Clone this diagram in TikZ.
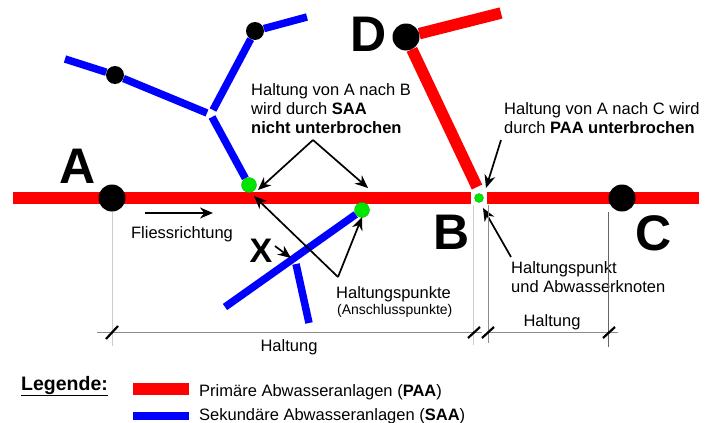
\documentclass[tikz,border=0pt]{standalone}
\usepackage{fontspec}
\setmainfont{Liberation Sans}
\usetikzlibrary{arrows.meta}
\usetikzlibrary{backgrounds}
\tikzset{
  paa/.style={draw=red, line width=11.5pt},
  saa/.style={draw=blue, line width=7.5pt},
  haltung/.style={circle, fill=black, inner sep=0pt, minimum size=#1},
  punkt/.style={circle, fill=green!90!black, draw=green!70!black, line width=0.3pt, inner sep=0pt, minimum size=#1},
  marke/.style={font=\fontsize{50}{50}\selectfont\bfseries, inner sep=0pt},
  txt/.style={font=\fontsize{16.5}{19}\selectfont, align=left, inner sep=0pt},
  pfeil/.style={draw=black, line width=1.7pt, -{Stealth[length=13pt,width=11pt]}},
  mass/.style={draw=black!45, line width=0.8pt},
  strich/.style={draw=black, line width=2.2pt}
}
\begin{document}
\begin{tikzpicture}[x=1pt, y=-1pt]
  \useasboundingbox (0,0) rectangle (710,423);
  % Punkte
  \coordinate (r0) at (13,198);
  \coordinate (b1) at (471,198);
  \coordinate (b2) at (487,198);
  \coordinate (r9) at (699,198);
  \coordinate (d1) at (501,13);
  \coordinate (d2) at (477,187);
  \coordinate (s0) at (65,59);
  \coordinate (s1) at (207,113);
  \coordinate (s2) at (213,110);
  \coordinate (s3) at (307,17);
  \coordinate (s4) at (212,117);
  \coordinate (u0) at (225,307);
  \coordinate (v0) at (296,264);
  \coordinate (v1) at (309,323);
  \node[haltung=27pt] (A) at (112,198) {};
  \node[haltung=27pt] (C) at (622,198) {};
  \node[haltung=27pt] (D) at (406,37) {};
  \node[haltung=18pt] (S1) at (115,75) {};
  \node[haltung=18pt] (S2) at (255,31) {};
  \node[punkt=15pt] (P1) at (249,185) {};
  \node[punkt=15pt] (P2) at (362,210) {};
  \node[punkt=9pt] (P3) at (479,198) {};
  % Leitungen
  \begin{scope}[on background layer]
    \draw[paa] (r0) -- (b1);
    \draw[paa] (b2) -- (r9);
    \draw[paa] (D) -- (d1);
    \draw[paa] (D) -- (d2);
    \draw[saa] (s0) -- (S1) -- (s1);
    \draw[saa] (s2) -- (S2) -- (s3);
    \draw[saa] (s4) -- (P1);
    \draw[saa] (u0) -- (P2);
    \draw[saa] (v0) -- (v1);
  \end{scope}
  % Buchstaben
  \node[marke] (LA) at (78,166) {A};
  \node[marke] (LB) at (452,232) {B};
  \node[marke] (LC) at (654,233) {C};
  \node[marke] (LD) at (369,34) {D};
  \node[font=\fontsize{34}{34}\selectfont\bfseries, inner sep=0pt] (LX) at (261,251) {X};
  % Texte
  \node[txt, anchor=north west] (T1) at (251,83) {Haltung von A nach B\\wird durch \textbf{SAA}\\\textbf{nicht unterbrochen}};
  \node[txt, anchor=north west] (T2) at (504,102) {Haltung von A nach C wird\\durch \textbf{PAA unterbrochen}};
  \node[txt, anchor=north west] (T3) at (511,261) {Haltungspunkt\\und Abwasserknoten};
  \node[txt, anchor=north west] (T4) at (336,286) {Haltungspunkte};
  \node[txt, anchor=north west, font=\fontsize{14}{14}\selectfont] (T5) at (337,304) {(Anschlusspunkte)};
  \node[txt] (F) at (182,234) {Fliessrichtung};
  \node[txt] (H1) at (289,347) {Haltung};
  \node[txt] (H2) at (552,322) {Haltung};
  % Pfeile
  \coordinate (q1) at (313,140);
  \draw[pfeil] (q1) -- (258,190);
  \draw[pfeil] (q1) -- (368,188);
  \coordinate (q2) at (338,277);
  \draw[pfeil] (q2) -- (254,196);
  \draw[pfeil] (q2) -- (362,217);
  \draw[pfeil] (275,246) -- (291,258);
  \draw[pfeil] (145,213) -- (213,213);
  \draw[pfeil] (501,140) -- (486,188);
  \draw[pfeil] (511,257) -- (483,208);
  % Masslinien
  \draw[mass, black!20] (112,212) -- (112,346);
  \draw[mass, black!20] (473,205) -- (473,345);
  \draw[mass] (488,205) -- (488,343);
  \draw[mass, black!60] (608,212) -- (608,347);
  \draw[mass] (97,332) -- (482,332);
  \draw[mass] (488,332) -- (618,332);
  \draw[strich] (106,339) -- (118,326);
  \draw[strich] (468,338) -- (480,327);
  \draw[strich] (482,338) -- (494,327);
  \draw[strich] (603,338) -- (615,327);
  % Legende
  \node[font=\fontsize{19.5}{22}\selectfont\bfseries, anchor=west, inner sep=0pt] (Leg) at (21,386) {\underline{Legende:}};
  \draw[paa] (133,389) -- (189,389);
  \draw[saa] (133,416) -- (189,416);
  \node[txt, anchor=west] (L1) at (199,392) {Primäre Abwasseranlagen (\textbf{PAA})};
  \node[txt, anchor=west] (L2) at (199,416) {Sekundäre Abwasseranlagen (\textbf{SAA})};
\end{tikzpicture}
\end{document}
